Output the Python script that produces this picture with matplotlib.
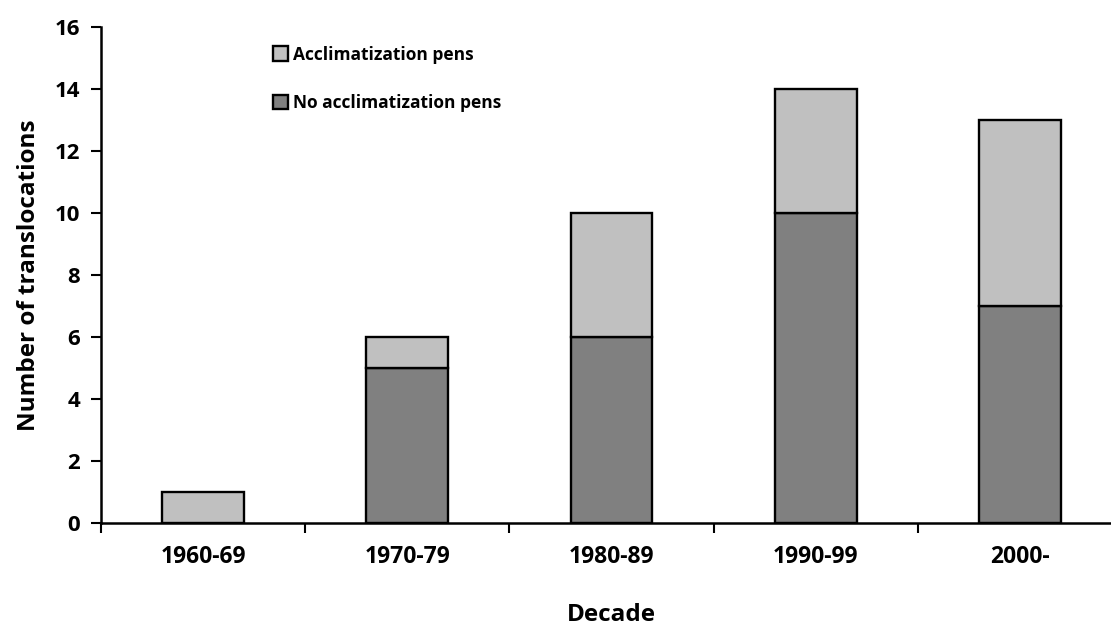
import matplotlib
matplotlib.use("Agg")
import matplotlib.pyplot as plt
import numpy as np

decades = ["1960-69", "1970-79", "1980-89", "1990-99", "2000-"]
no_pens = [0, 5, 6, 10, 7]
pens = [1, 1, 4, 4, 6]

DARK, LIGHT = "#808080", "#c0c0c0"
plt.rcParams["font.family"] = ["Open Sans", "DejaVu Sans"]
plt.rcParams["font.weight"] = "bold"

W, H = 1111, 627
fig = plt.figure(figsize=(W / 100, H / 100), dpi=100)
# axis spans a bit past the right edge of the canvas
x0, x1, y0, y1 = 101, 1122, 523, 27
ax = fig.add_axes([x0 / W, 1 - y0 / H, (x1 - x0) / W, (y0 - y1) / H])

x = np.arange(len(decades))
ax.bar(x, no_pens, width=0.4, color=DARK, edgecolor="black", linewidth=1.7,
       label="No acclimatization pens", zorder=3)
ax.bar(x, pens, bottom=no_pens, width=0.4, color=LIGHT, edgecolor="black",
       linewidth=1.7, label="Acclimatization pens", zorder=3)

ax.set_xlim(-0.5, len(decades) - 0.5)
ax.set_ylim(0, 16)
ax.set_yticks(range(0, 17, 2))
ax.set_xticks(x)
ax.set_xticklabels(decades, fontsize=16.5, fontweight="bold")
ax.set_xticks(np.arange(-0.5, len(decades), 1), minor=True)
ax.tick_params(axis="x", which="major", length=0, pad=16)
ax.tick_params(axis="x", which="minor", length=7, width=1.5, direction="out")
ax.tick_params(axis="y", length=7, width=1.5, labelsize=16, pad=8)
for lab in ax.get_yticklabels():
    lab.set_fontweight("bold")
for s in ("top", "right"):
    ax.spines[s].set_visible(False)
for s in ("left", "bottom"):
    ax.spines[s].set_linewidth(1.8)

ax.set_ylabel("Number of translocations", fontsize=17.5, fontweight="bold", labelpad=10)
ax.set_xlabel("Decade", fontsize=17.5, fontweight="bold", labelpad=24)

handles, labels = ax.get_legend_handles_labels()
ax.legend(handles[::-1], labels[::-1], loc="upper left",
          bbox_to_anchor=(257 / W, 1 - 30 / H), bbox_transform=fig.transFigure,
          frameon=False, handlelength=0.9, handleheight=0.9,
          handletextpad=0.3, labelspacing=1.75, prop={"weight": "bold", "size": 12.5})

fig.savefig("out.png", dpi=100, facecolor="white")
